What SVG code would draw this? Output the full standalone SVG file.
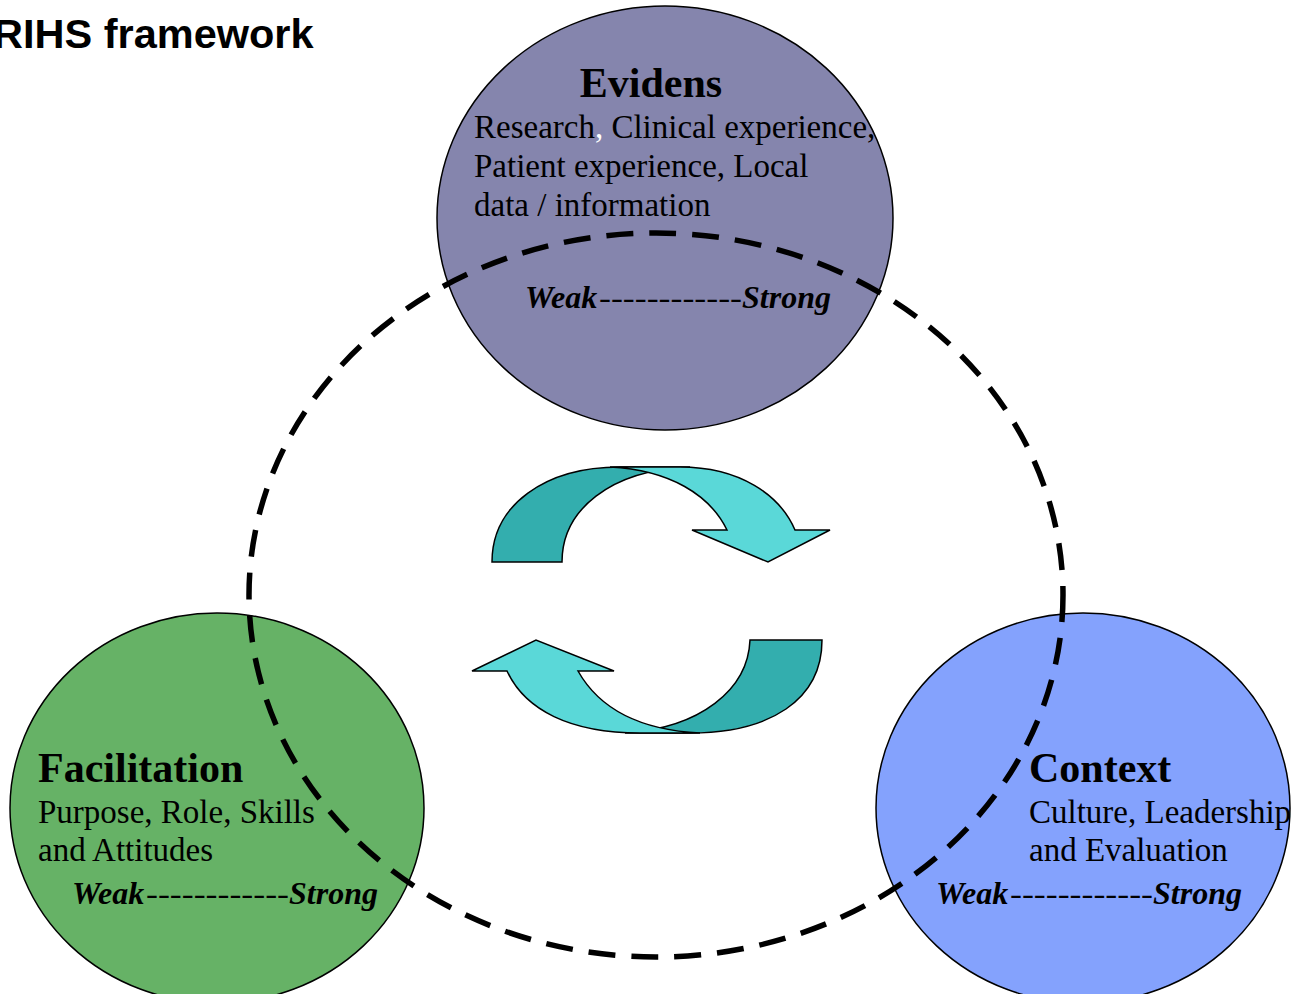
<svg xmlns="http://www.w3.org/2000/svg" width="1292" height="994" viewBox="0 0 1292 994">
<style>
.node{stroke:#000;stroke-width:1.5}
.ttl{font-family:"Liberation Serif","Times New Roman",serif;font-weight:bold;font-size:42px;fill:#000}
.body{font-family:"Liberation Serif","Times New Roman",serif;font-size:33px;fill:#000}
.ws{font-family:"Liberation Serif","Times New Roman",serif;font-size:32px;fill:#000}
.bi{font-weight:bold;font-style:italic}
.ring{fill:none;stroke:#000;stroke-width:5.5;stroke-dasharray:27 16}
.arr{stroke:#000;stroke-width:1.5;stroke-linejoin:miter}
.dk{fill:#33AEAE}
.lt{fill:#5AD8D8}
</style>
<rect width="1292" height="994" fill="#fff"/>
<text x="-7" y="48" font-family="'Liberation Sans',Arial,sans-serif" font-weight="bold" font-size="41.5" fill="#000">RIHS framework</text>

<g id="evidens">
<ellipse class="node" cx="665" cy="218" rx="228" ry="212" fill="#8585AD"/>
</g>
<g id="facilitation">
<ellipse class="node" cx="217" cy="808" rx="207" ry="195" fill="#66B266"/>
</g>
<g id="context">
<ellipse class="node" cx="1083" cy="808" rx="207" ry="195" fill="#84A2FD"/>
</g>

<g id="connectors">
<ellipse class="ring" cx="656" cy="595" rx="407" ry="362"/>
<path class="arr dk" d="M492,562 C492,505 545,467 620,467 L690,467 C610,470 562,510 562,562 Z"/>
<path class="arr lt" d="M610,467 L680,467 C740,467 780,495 795,530 L830,530 L768,562 L692,530 L727,530 C710,495 670,470 610,467 Z"/>
<path class="arr dk" d="M822,640 C822,700 770,733 690,733 L625,733 C700,728 748,690 750,640 Z"/>
<path class="arr lt" d="M472,671 L536,640 L614,671 L578,671 C600,710 640,730 700,733 L640,733 C570,733 525,710 507,671 Z"/>
</g>

<g id="evidens-text">
<text class="ttl" x="651" y="97" text-anchor="middle">Evidens</text>
<text class="body" x="474" y="138">Research<tspan fill="#fff">,</tspan> Clinical experience,</text>
<text class="body" x="474" y="177">Patient experience, Local</text>
<text class="body" x="474" y="216">data / information</text>
<text class="ws" y="308"><tspan class="bi" x="525">Weak</tspan><tspan x="599" textLength="143" lengthAdjust="spacingAndGlyphs">------------</tspan><tspan class="bi" x="742">Strong</tspan></text>
</g>
<g id="facilitation-text">
<text class="ttl" x="38" y="782">Facilitation</text>
<text class="body" x="38" y="823">Purpose, Role, Skills</text>
<text class="body" x="38" y="861">and Attitudes</text>
<text class="ws" y="904"><tspan class="bi" x="72">Weak</tspan><tspan x="146" textLength="143" lengthAdjust="spacingAndGlyphs">------------</tspan><tspan class="bi" x="289">Strong</tspan></text>
</g>
<g id="context-text">
<text class="ttl" x="1029" y="782">Context</text>
<text class="body" x="1029" y="823">Culture, Leadership</text>
<text class="body" x="1029" y="861">and Evaluation</text>
<text class="ws" y="904"><tspan class="bi" x="936">Weak</tspan><tspan x="1010" textLength="143" lengthAdjust="spacingAndGlyphs">------------</tspan><tspan class="bi" x="1153">Strong</tspan></text>
</g>
</svg>
